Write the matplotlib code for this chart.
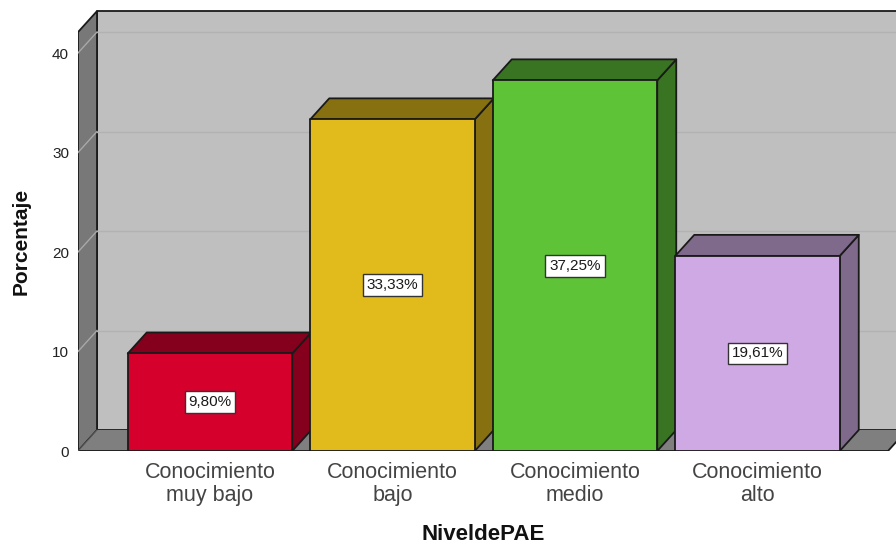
import matplotlib
matplotlib.use("Agg")
import matplotlib.pyplot as plt
from matplotlib.patches import Polygon

categories = ["Conocimiento\nmuy bajo", "Conocimiento\nbajo", "Conocimiento\nmedio", "Conocimiento\nalto"]
values = [9.80, 33.33, 37.25, 19.61]
labels = ["9,80%", "33,33%", "37,25%", "19,61%"]
y_ticks = [0, 10, 20, 30, 40]
front_colors = ["#d6002d", "#e1bb1c", "#5ec337", "#cfa9e3"]
top_colors = ["#85001c", "#867010", "#387421", "#806a8c"]

plt.rcParams["font.family"] = ["Liberation Sans", "DejaVu Sans"]

W, H = 896, 544
fig = plt.figure(figsize=(W / 100, H / 100), dpi=100)
# axes spans from the front-left corner of the 3d box to the image edge
ax = fig.add_axes([78 / W, (H - 451) / H, (W - 78) / W, 451 / H])
px_x = 182.5
px_y = 9.95
ax.set_xlim(-132 / px_x, 686 / px_x)
ax.set_ylim(0, 451 / px_y)
ax.axis("off")

dx = 19 / px_x
dy = 21 / px_y
bar_w = 164.5 / px_x
x_l = -132 / px_x
x_r = 678 / px_x
y_top = 42.1
edge = "#1a1a1a"


def poly(pts, color, z, lw=1.3, ec=edge):
    ax.add_patch(Polygon(pts, closed=True, fc=color, ec=ec, lw=lw, zorder=z, joinstyle="round"))


# back wall, side wall, floor
poly([(x_l + dx, dy), (x_r + dx, dy), (x_r + dx, y_top + dy), (x_l + dx, y_top + dy)], "#bfbfbf", 1)
poly([(x_l, 0), (x_l + dx, dy), (x_l + dx, y_top + dy), (x_l, y_top)], "#787878", 2)
poly([(x_l, 0), (x_r, 0), (x_r + dx, dy), (x_l + dx, dy)], "#7f7f7f", 2, lw=0, ec="none")
ax.plot([x_l, x_r, x_r + dx], [0, 0, dy], color=edge, lw=1.3, zorder=3)
ax.plot([x_l, x_l + dx], [0, dy], color="#555555", lw=0.8, zorder=3)

for t in y_ticks[1:]:
    ax.plot([x_l + dx, x_r + dx], [t + dy, t + dy], color="#b2b2b2", lw=1, zorder=3)
    ax.plot([x_l, x_l + dx], [t, t + dy], color="#a8a8a8", lw=1, zorder=3)

for i, v in enumerate(values):
    l = i - bar_w / 2
    r = i + bar_w / 2
    poly([(r, 0), (r + dx, dy), (r + dx, v + dy), (r, v)], top_colors[i], 5 + i)
    poly([(l, v), (r, v), (r + dx, v + dy), (l + dx, v + dy)], top_colors[i], 5 + i)
    poly([(l, 0), (r, 0), (r, v), (l, v)], front_colors[i], 5 + i)
    ax.text(i, v / 2, labels[i], ha="center", va="center", fontsize=11, color="#1a1a1a", zorder=20,
            bbox=dict(boxstyle="square,pad=0.25", fc="white", ec="#333333", lw=1))
    ax.text(i, -1.1, categories[i], ha="center", va="top", fontsize=15.5, color="#444444",
            linespacing=1.1, clip_on=False)

for t in y_ticks:
    ax.text(x_l - 9 / px_x, t - 0.2, str(t), ha="right", va="center", fontsize=11, color="#222222", clip_on=False)

fig.text(21 / W, 1 - 241 / H, "Porcentaje", rotation=90, ha="center", va="center",
         fontsize=15, fontweight="bold", color="#111111")
fig.text(483 / W, 1 - 534 / H, "NiveldePAE", ha="center", va="center",
         fontsize=16, fontweight="bold", color="#111111")

fig.savefig("out.png", dpi=100)
